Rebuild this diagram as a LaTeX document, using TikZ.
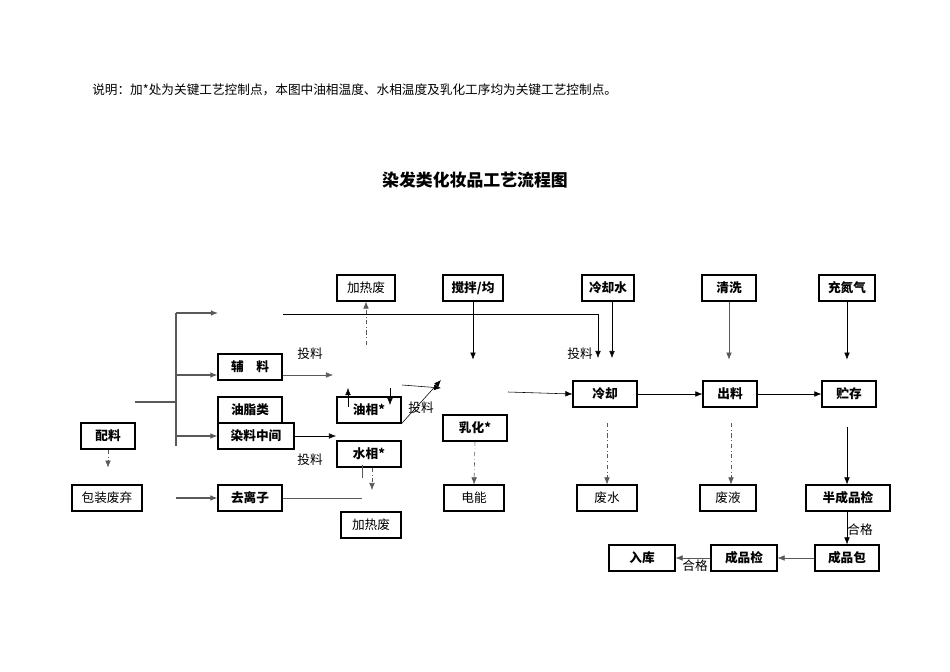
\documentclass[tikz,border=0pt]{standalone}
\usepackage{fontspec}
\setmainfont{Noto Sans CJK SC}
\usetikzlibrary{arrows.meta}
\begin{document}
\begin{tikzpicture}
  [
    x=0.025cm, y=-0.025cm,
    box/.style={draw, thick, minimum height=0.65cm, inner sep=1pt, font=\fontsize{9}{11}\selectfont\bfseries},
    lbox/.style={box, font=\fontsize{9}{11}\selectfont},
    txt/.style={font=\fontsize{9}{11}\selectfont, inner sep=0pt},
    arr/.style={-{Latex[length=5pt,width=4pt]}},
    dd/.style={arr, dash dot, gray!70!black}
  ]
  \useasboundingbox (0,0) rectangle (950,672);
  % texts
  \node [txt, anchor=west] (note) at (92,90) {说明：加*处为关键工艺控制点，本图中油相温度、水相温度及乳化工序均为关键工艺控制点。};
  \node [txt, font=\fontsize{12}{14}\selectfont\bfseries] (title) at (475,180) {染发类化妆品工艺流程图};
  % top row
  \node [lbox, minimum width=1.45cm] (heat1) at (366,288) {加热废};
  \node [box, minimum width=1.5cm] (stir) at (473,288) {搅拌/均};
  \node [box, minimum width=1.3cm] (coolw) at (608,288) {冷却水};
  \node [box, minimum width=1.35cm] (wash) at (729,288) {清洗};
  \node [box, minimum width=1.4cm] (nitro) at (847,288) {充氮气};
  % left column
  \node [box, minimum width=1.6cm] (aux) at (250,367) {辅\hspace{1em}料};
  \node [box, minimum width=1.6cm] (oil) at (250,410) {油脂类};
  \node [box, minimum width=1.9cm] (dye) at (256,436) {染料中间};
  \node [box, minimum width=1.35cm] (mix) at (108,436) {配料};
  \node [lbox, minimum width=1.75cm] (pack) at (107,498) {包装废弃};
  \node [box, minimum width=1.6cm] (deion) at (250,498) {去离子};
  % phases
  \node [box, minimum width=1.6cm] (oilp) at (369,410) {油相*};
  \node [box, minimum width=1.6cm] (watp) at (369,454) {水相*};
  \node [box, minimum width=1.6cm] (emul) at (475,428) {乳化*};
  \node [lbox, minimum width=1.5cm] (power) at (474,498) {电能};
  \node [lbox, minimum width=1.5cm] (heat2) at (371,525) {加热废};
  % right part
  \node [box, minimum width=1.6cm] (cool) at (605,394) {冷却};
  \node [box, minimum width=1.35cm] (out) at (730,394) {出料};
  \node [box, minimum width=1.35cm] (store) at (849,394) {贮存};
  \node [lbox, minimum width=1.5cm] (wwater) at (607,498) {废水};
  \node [lbox, minimum width=1.4cm] (wliq) at (728,498) {废液};
  \node [box, minimum width=2.1cm] (semi) at (848,498) {半成品检};
  \node [box, minimum width=1.6cm] (packd) at (847,558) {成品包};
  \node [box, minimum width=1.65cm] (check) at (744,558) {成品检};
  \node [box, minimum width=1.65cm] (stock) at (642,558) {入库};
  % labels
  \node [txt] (feed1) at (310,354) {投料};
  \node [txt] (feed2) at (310,460) {投料};
  \node [txt] (feed3) at (421,408) {投料};
  \node [txt] (feed4) at (580,354) {投料};
  \node [txt] (ok1) at (860,530) {合格};
  \node [txt] (ok2) at (695,566) {合格};
  % free ends
  \coordinate (s0) at (135,402);
  \coordinate (s1) at (176,402);
  \coordinate (t0) at (176,313); \coordinate (t1) at (218,313);
  \coordinate (b0) at (176,446);
  \coordinate (p0) at (283,314); \coordinate (p1) at (598,314); \coordinate (p2) at (598,358);
  \coordinate (a1) at (333,375); \coordinate (d1) at (336,436);
  \coordinate (w0) at (362,498); \coordinate (w1) at (362,465);
  \coordinate (h0) at (366,345);
  \coordinate (q0) at (348,407); \coordinate (q1) at (348,388);
  \coordinate (q2) at (390,388); \coordinate (q3) at (390,405);
  \coordinate (e0) at (402,385); \coordinate (e1) at (441,388);
  \coordinate (e2) at (441,380);
  \coordinate (c0) at (508,392);
  \coordinate (pk0) at (176,498);
  % splitting of the batch
  \draw [thick, gray!70!black] (s0) -- (s1) (t0) -- (b0);
  \draw [arr, thick, gray!70!black] (t0) -- (t1);
  \draw [arr, thick, gray!70!black] (176,375) -- (aux.west |- 0,375);
  \draw [arr, thick, gray!70!black] (176,436) -- (dye.west);
  \draw [arr, thick, gray!70!black] (pk0) -- (deion.west);
  \draw [dd] (mix.south) -- ++(0,18);
  % feeding
  \draw [arr] (p0) -- (p1) -- (p2);
  \draw [arr, gray!70!black] (aux.east |- a1) -- (a1);
  \draw [arr] (dye.east) -- (d1);
  \draw [gray!70!black] (deion.east) -- (w0);
  \draw [gray!70!black] (362,478) -- (w1);
  \draw [dd] (watp.south -| 372,0) -- (372,490);
  \draw [dd] (h0) -- (heat1.south);
  \draw [arr] (q0) -- (q1);
  \draw [arr] (q2) -- (q3);
  \draw [arr] (e0) -- (e1);
  \draw [arr] (oilp.south east) -- (e2);
  % main line
  \draw [arr] (stir.south) -- ++(0,58);
  \draw [dd] (emul.south) -- (power.north);
  \draw [arr] (c0) -- (cool.west);
  \draw [arr] (coolw.south -| 612,0) -- (612,358);
  \draw [arr] (cool.east) -- (out.west);
  \draw [arr] (out.east) -- (store.west);
  \draw [arr, gray!70!black] (wash.south) -- ++(0,58);
  \draw [arr] (nitro.south) -- ++(0,58);
  \draw [dd] (607,423) -- (wwater.north);
  \draw [dd] (731,423) -- (wliq.north -| 731,0);
  \draw [arr] (847,427) -- (semi.north -| 847,0);
  \draw [arr] (semi.south -| 847,0) -- (packd.north);
  \draw [arr, gray!70!black] (packd.west) -- (check.east);
  \draw [arr, gray!70!black] (check.west) -- (stock.east);
\end{tikzpicture}
\end{document}
